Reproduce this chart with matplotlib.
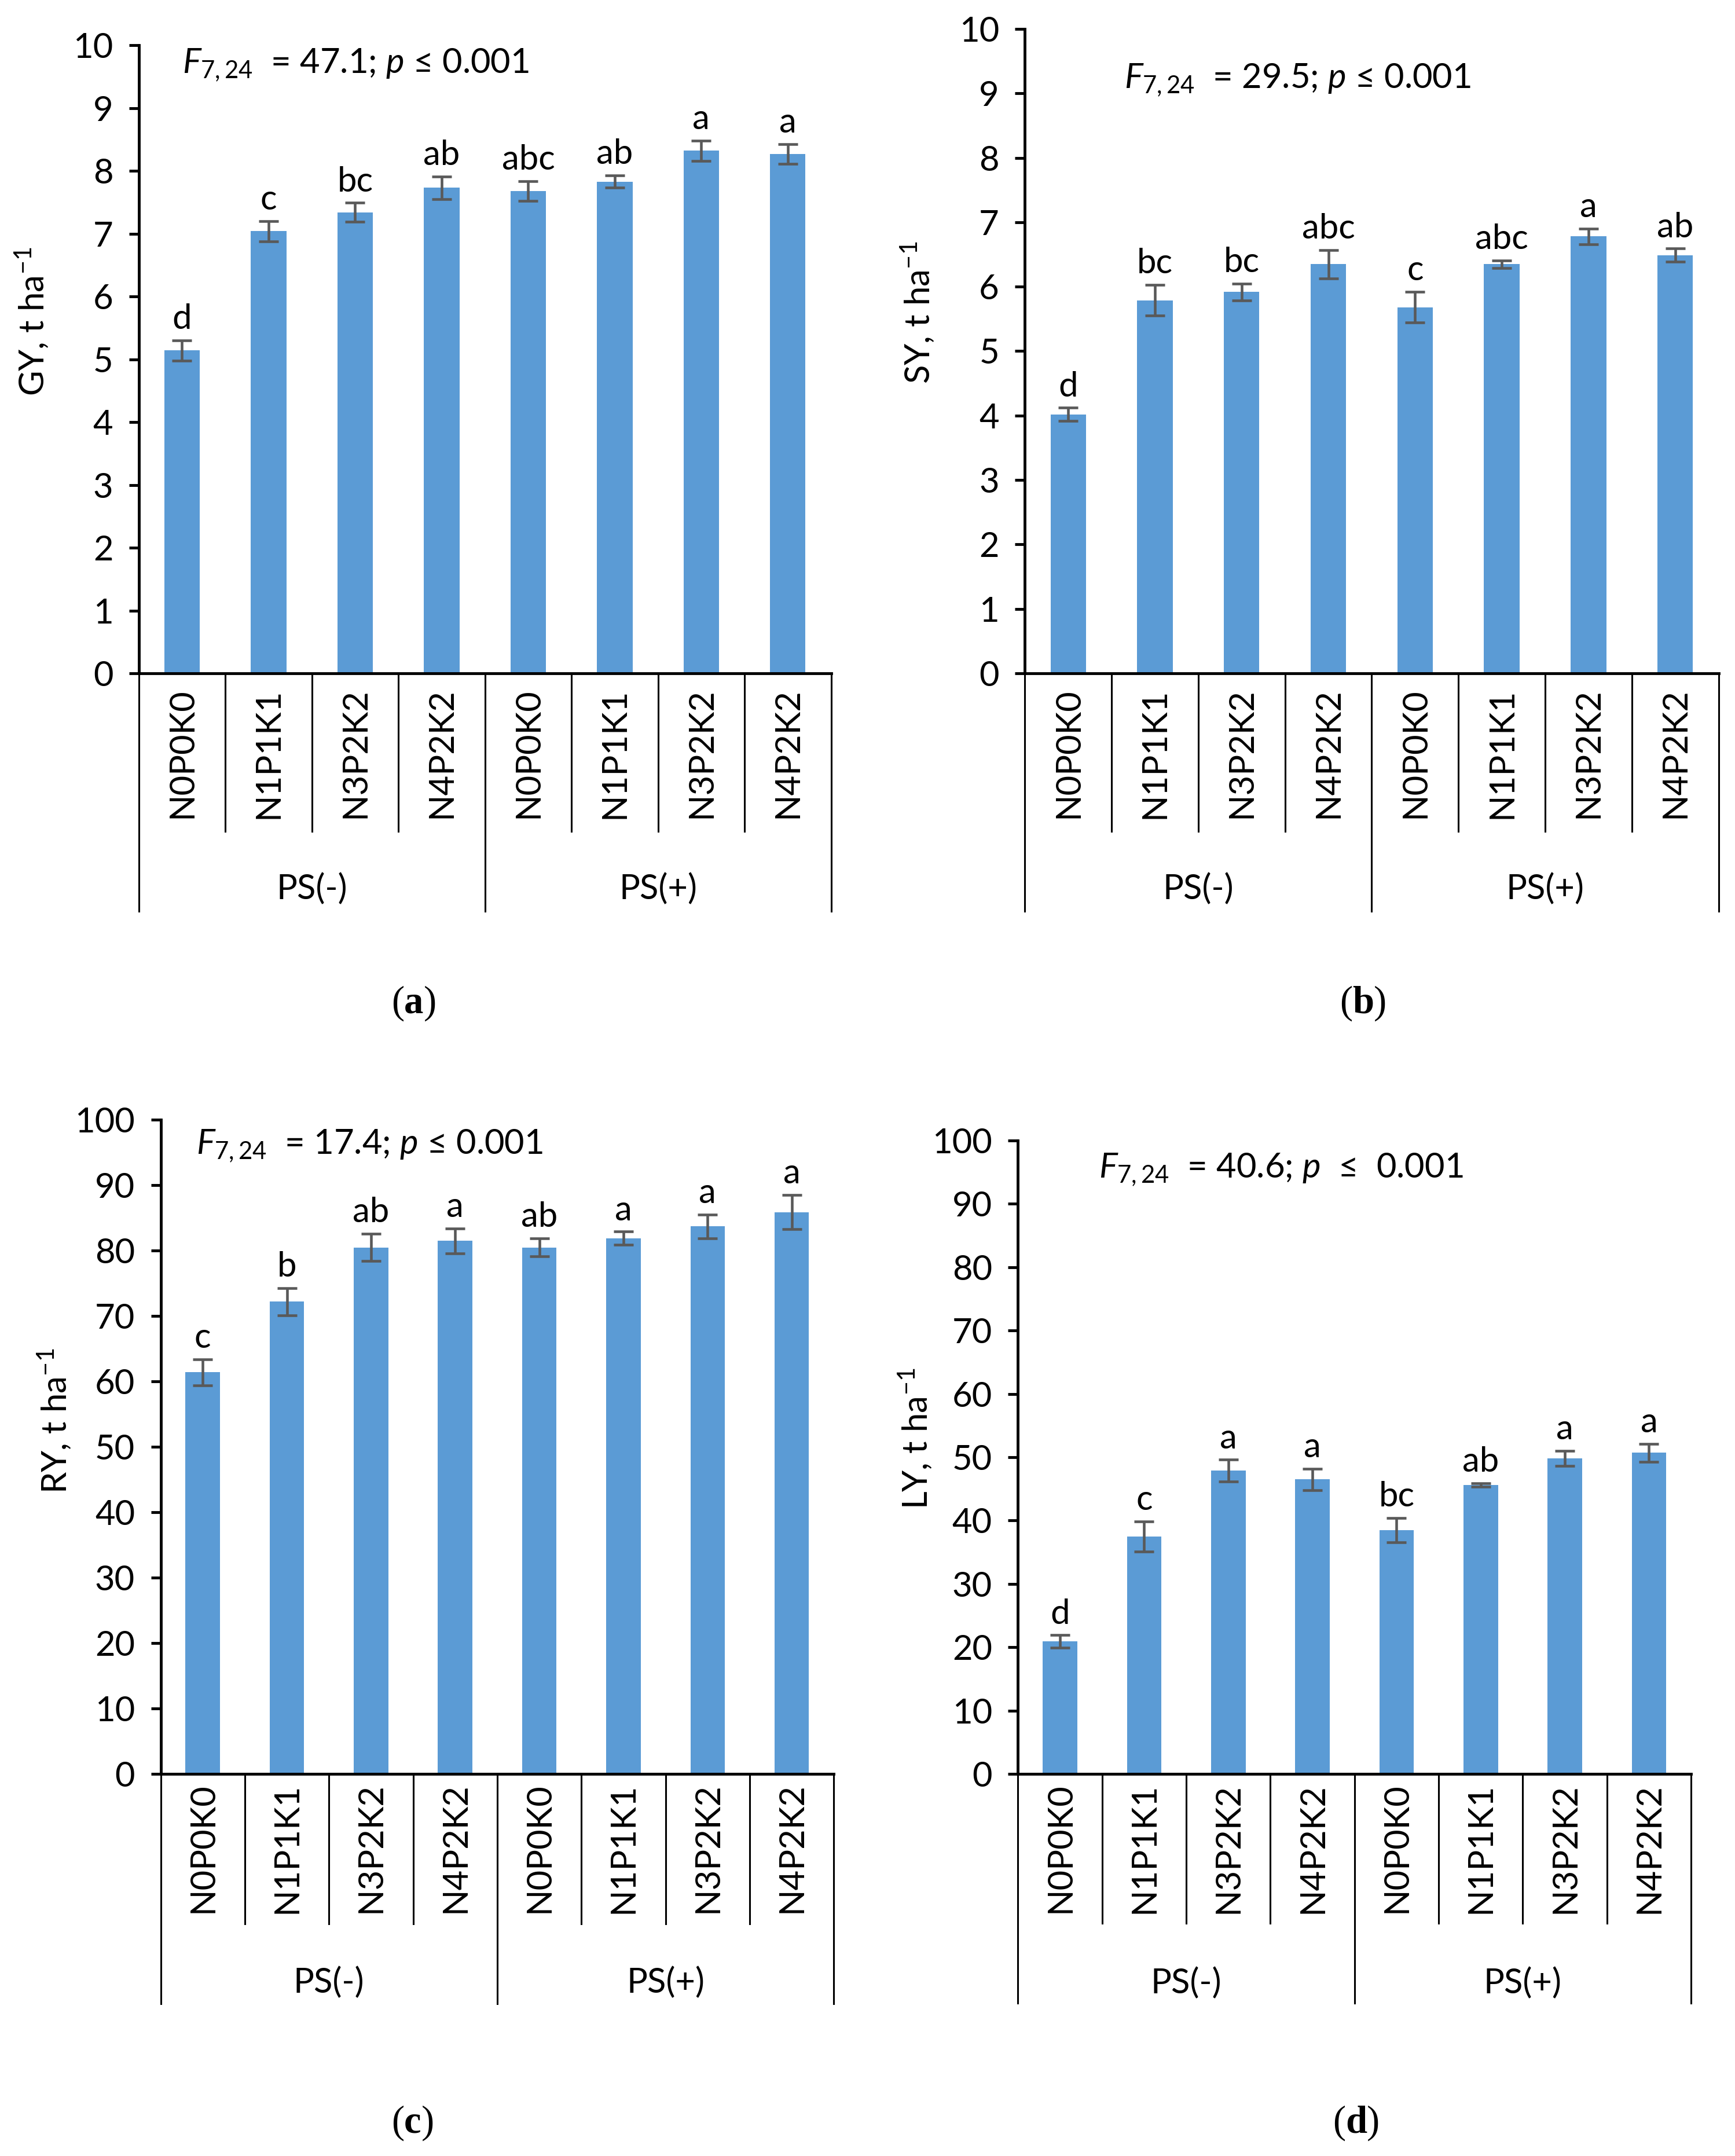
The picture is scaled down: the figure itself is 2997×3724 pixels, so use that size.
import matplotlib
matplotlib.use('Agg')
import matplotlib.pyplot as plt
import matplotlib.transforms as mtransforms

plt.rcParams['font.family'] = ['Lato', 'DejaVu Sans']
plt.rcParams['mathtext.fontset'] = 'custom'
plt.rcParams['mathtext.rm'] = 'Lato'
plt.rcParams['mathtext.it'] = 'Lato:italic'
plt.rcParams['mathtext.bf'] = 'Lato:bold'

categories = ['N0P0K0', 'N1P1K1', 'N3P2K2', 'N4P2K2',
              'N0P0K0', 'N1P1K1', 'N3P2K2', 'N4P2K2']
groups = ['PS(-)', 'PS(+)']

gy = [5.14, 7.04, 7.34, 7.73, 7.68, 7.83, 8.32, 8.27]
gy_err = [0.16, 0.16, 0.15, 0.18, 0.16, 0.10, 0.16, 0.16]
gy_let = ['d', 'c', 'bc', 'ab', 'abc', 'ab', 'a', 'a']

sy = [4.02, 5.79, 5.92, 6.35, 5.68, 6.35, 6.78, 6.49]
sy_err = [0.10, 0.24, 0.13, 0.22, 0.24, 0.06, 0.12, 0.10]
sy_let = ['d', 'bc', 'bc', 'abc', 'c', 'abc', 'a', 'ab']

ry = [61.4, 72.2, 80.5, 81.5, 80.5, 81.9, 83.7, 85.9]
ry_err = [2.0, 2.1, 2.1, 1.9, 1.4, 1.0, 1.8, 2.6]
ry_let = ['c', 'b', 'ab', 'a', 'ab', 'a', 'a', 'a']

ly = [20.9, 37.5, 47.9, 46.5, 38.5, 45.6, 49.8, 50.7]
ly_err = [1.0, 2.4, 1.7, 1.7, 1.9, 0.3, 1.2, 1.4]
ly_let = ['d', 'c', 'a', 'a', 'bc', 'ab', 'a', 'a']

stats = [r'$\mathit{F}_{\mathit{7,24}}$  = 47.1; $\mathit{p}$ ≤ 0.001',
         r'$\mathit{F}_{\mathit{7,24}}$  = 29.5; $\mathit{p}$ ≤ 0.001',
         r'$\mathit{F}_{\mathit{7,24}}$  = 17.4; $\mathit{p}$ ≤ 0.001',
         r'$\mathit{F}_{\mathit{7,24}}$  = 40.6; $\mathit{p}$  ≤  0.001']
ylabels = [r'GY, t ha$^{-1}$', r'SY, t ha$^{-1}$', r'RY, t ha$^{-1}$', r'LY, t ha$^{-1}$']
captions = ['a', 'b', 'c', 'd']

BAR = '#5B9BD5'
ERR = '#595959'
FS = 43

fig = plt.figure(figsize=(29.97, 37.24), dpi=100)

panels = [
    dict(rect=[0.080, 0.6877, 0.399, 0.2913], vals=gy, err=gy_err, let=gy_let, ymax=10, step=1,
         st=(0.063, 0.969), lab_y=-0.127, grp_y=-0.343, sep=0.252, outer=0.379, ylx=-0.128, yly=0.56,
         cap=(0.2375, 0.5347)),
    dict(rect=[0.5907, 0.6877, 0.3998, 0.2989], vals=sy, err=sy_err, let=sy_let, ymax=10, step=1,
         st=(0.143, 0.921), lab_y=-0.124, grp_y=-0.335, sep=0.245, outer=0.369, ylx=-0.128, yly=0.56,
         cap=(0.784, 0.5347)),
    dict(rect=[0.0926, 0.1772, 0.388, 0.3034], vals=ry, err=ry_err, let=ry_let, ymax=100, step=10,
         st=(0.053, 0.960), lab_y=-0.113, grp_y=-0.319, sep=0.229, outer=0.351, ylx=-0.130, yly=0.54,
         cap=(0.2375, 0.0153)),
    dict(rect=[0.5867, 0.1772, 0.388, 0.2938], vals=ly, err=ly_err, let=ly_let, ymax=100, step=10,
         st=(0.120, 0.954), lab_y=-0.117, grp_y=-0.330, sep=0.236, outer=0.362, ylx=-0.125, yly=0.53,
         cap=(0.780, 0.0153)),
]

for i, p in enumerate(panels):
    ax = fig.add_axes(p['rect'])
    x = list(range(len(categories)))
    ax.bar(x, p['vals'], width=0.41, color=BAR, zorder=2)
    ax.errorbar(x, p['vals'], yerr=p['err'], fmt='none', ecolor=ERR, elinewidth=3.3,
                capsize=12, capthick=3.3, zorder=3)
    for xi, v, e, t in zip(x, p['vals'], p['err'], p['let']):
        ax.annotate(t, (xi, v + e), xytext=(0, 7), textcoords='offset points',
                    ha='center', va='bottom', fontsize=FS)
    ax.set_xlim(-0.5, len(categories) - 0.5)
    ax.set_ylim(0, p['ymax'])
    ax.set_yticks(list(range(0, p['ymax'] + 1, p['step'])))
    ax.tick_params(axis='y', labelsize=FS, length=12, width=3.5, pad=20, direction='out')
    ax.set_xticks([])
    for s in ['top', 'right']:
        ax.spines[s].set_visible(False)
    ax.spines['left'].set_linewidth(3.5)
    ax.spines['bottom'].set_linewidth(3.5)
    ax.spines['left'].set_zorder(4)
    trans = mtransforms.blended_transform_factory(ax.transData, ax.transAxes)
    for xi, c in zip(x, categories):
        ax.text(xi, p['lab_y'], c, rotation=90, ha='center', va='center', fontsize=FS,
                transform=trans)
    for b in range(len(categories) + 1):
        xb = b - 0.5
        ybot = -p['outer'] if b % 4 == 0 else -p['sep']
        ax.plot([xb, xb], [0, ybot], color='black', lw=2.2, transform=trans, clip_on=False)
    for g, name in enumerate(groups):
        ax.text(g * 4 + 1.5, p['grp_y'], name, ha='center', va='center', fontsize=FS,
                transform=trans)
    ax.text(p['st'][0], p['st'][1], stats[i], transform=ax.transAxes, fontsize=FS,
            ha='left', va='center')
    ax.set_ylabel(ylabels[i], fontsize=FS)
    ax.yaxis.set_label_coords(p['ylx'], p['yly'])
    t1 = fig.text(p['cap'][0] - 0.012, p['cap'][1], '(', family='Liberation Serif',
                  fontsize=48, ha='left', va='center')
    a2 = plt.annotate(captions[i], xy=(1, 0), xycoords=t1, xytext=(0, 0), textcoords='offset points',
                      va='bottom', ha='left', family='Liberation Serif', fontweight='bold',
                      fontsize=48, annotation_clip=False)
    plt.annotate(')', xy=(1, 0), xycoords=a2, va='bottom', ha='left',
                 family='Liberation Serif', fontsize=48, annotation_clip=False)

fig.savefig('out.png', dpi=100)
